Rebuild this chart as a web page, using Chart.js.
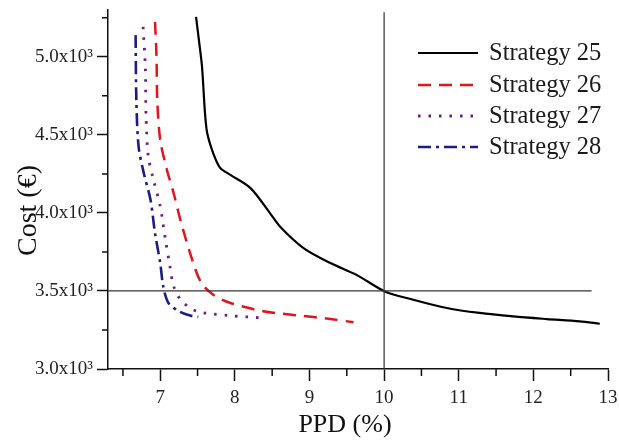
<!DOCTYPE html>
<html>
<head>
<meta charset="utf-8">
<script src="https://cdn.jsdelivr.net/npm/chart.js@4/dist/chart.umd.min.js"></script>
<style>
  html, body { margin: 0; padding: 0; background: #fff; }
  #wrap { width: 619px; height: 441px; position: relative; }
</style>
</head>
<body>
<div id="wrap"><canvas id="chart"></canvas></div>
<script>
// PPD (%) vs cost
const s25x = [7.48, 7.52, 7.56, 7.60, 7.63, 7.71, 7.80, 7.94, 8.21, 8.47, 8.61, 8.92, 9.28, 9.63, 10.01, 10.39, 10.84, 11.28, 11.73, 12.18, 12.62, 12.89];
const s25y = [5256, 5100, 4936, 4638, 4510, 4382, 4290, 4244, 4159, 3999, 3910, 3775, 3679, 3603, 3497, 3444, 3391, 3359, 3337, 3320, 3305, 3290];

const s26x = [6.93, 6.95, 6.96, 7.00, 7.09, 7.18, 7.27, 7.40, 7.54, 7.71, 7.94, 8.38, 8.83, 9.28, 9.59];
const s26y = [5224, 5000, 4723, 4467, 4275, 4126, 3955, 3743, 3560, 3476, 3423, 3370, 3344, 3321, 3299];

const s27x = [6.77, 6.80, 6.81, 6.84, 6.91, 7.00, 7.07, 7.13, 7.18, 7.29, 7.49, 7.94, 8.38];
const s27y = [5192, 4936, 4616, 4361, 4212, 4041, 3828, 3658, 3530, 3434, 3370, 3342, 3327];

const s28x = [6.67, 6.68, 6.71, 6.78, 6.87, 6.93, 7.00, 7.04, 7.11, 7.25, 7.40, 7.51];
const s28y = [5139, 4723, 4425, 4254, 4083, 3870, 3679, 3530, 3423, 3370, 3342, 3334];

// reference cross lines
const hLineX = [6.3, 12.78];
const hLineY = [3500, 3500];
const vLineX = [10, 10];
const vLineY = [3000, 5285];

const seriesNames = ['Strategy 25', 'Strategy 26', 'Strategy 27', 'Strategy 28'];
const xTicks = [7, 8, 9, 10, 11, 12, 13];
const yTicks = [3000, 3500, 4000, 4500, 5000];

const SERIF = '"Liberation Serif", "DejaVu Serif", serif';
const NB = '\u00A0';

function pts(xs, ys) { return xs.map((x, i) => ({ x: x, y: ys[i] })); }

const curveStyles = [
    { color: '#000000', dash: [], width: 2.2 },
    { color: '#e3141c', dash: [13, 8], width: 2.5 },
    { color: '#6e1b86', dash: [2.5, 8], width: 2.8 },
    { color: '#1c1c86', dash: [13, 5, 3, 5], width: 2.6 }
];
const curveData = [pts(s25x, s25y), pts(s26x, s26y), pts(s27x, s27y), pts(s28x, s28y)];

const datasets = [
    { label: 'h', data: pts(hLineX, hLineY), borderColor: '#333', borderWidth: 1.2 },
    { label: 'v', data: pts(vLineX, vLineY), borderColor: '#333', borderWidth: 1.2 }
];
seriesNames.forEach((name, i) => {
    datasets.push({
        label: name,
        data: curveData[i],
        borderColor: curveStyles[i].color,
        borderDash: curveStyles[i].dash,
        borderWidth: curveStyles[i].width,
        tension: 0.3
    });
});
datasets.forEach(d => { d.showLine = true; d.pointRadius = 0; d.fill = false; });

// minor ticks + hand-made legend (line samples need dash patterns)
const extras = {
    id: 'extras',
    afterDraw(chart) {
        const ctx = chart.ctx;
        const xs = chart.scales.x, ys = chart.scales.y;
        ctx.save();
        ctx.strokeStyle = '#111';
        ctx.lineWidth = 1.5;
        ctx.beginPath();
        for (let v = 6.5; v < 13; v += 1) {
            const px = xs.getPixelForValue(v);
            ctx.moveTo(px, xs.top); ctx.lineTo(px, xs.top + 7);
        }
        for (let v = 3250; v <= 5250; v += 500) {
            const py = ys.getPixelForValue(v);
            ctx.moveTo(ys.right, py); ctx.lineTo(ys.right - 6, py);
        }
        ctx.stroke();

        ctx.font = '24.5px ' + SERIF;
        ctx.textBaseline = 'middle';
        ctx.fillStyle = '#1a1a1a';
        const rows = [53, 85, 116, 147];
        seriesNames.forEach((name, i) => {
            const st = curveStyles[i];
            ctx.strokeStyle = st.color;
            ctx.lineWidth = st.width;
            ctx.setLineDash(st.dash);
            ctx.beginPath();
            ctx.moveTo(418, rows[i]); ctx.lineTo(478, rows[i]);
            ctx.stroke();
            ctx.setLineDash([]);
            ctx.fillText(name, 489, rows[i] + 1);
        });
        ctx.restore();
    }
};

new Chart(document.getElementById('chart'), {
    type: 'scatter',
    data: { datasets: datasets },
    plugins: [extras],
    options: {
        responsive: true,
        maintainAspectRatio: false,
        animation: false,
        layout: { padding: { top: 10, right: 11, left: 0, bottom: 0 } },
        plugins: { legend: { display: false }, tooltip: { enabled: false } },
        scales: {
            x: {
                type: 'linear', min: 6.3, max: 13,
                afterBuildTicks: s => { s.ticks = xTicks.map(v => ({ value: v })); },
                afterFit: s => { s.height = 72; s.paddingRight = 0; s.paddingLeft = 0; },
                border: { color: '#111', width: 1.5 },
                grid: { display: true, drawOnChartArea: false, drawTicks: true, tickLength: 12, tickColor: '#111', tickWidth: 1.5 },
                ticks: { color: '#222', font: { family: SERIF, size: 19 }, padding: 6, maxRotation: 0 },
                title: { display: true, text: 'PPD (%)' + NB.repeat(4), color: '#111', font: { family: SERIF, size: 26 }, padding: { top: 0, bottom: 0 } }
            },
            y: {
                type: 'linear', min: 3000, max: 5300,
                afterBuildTicks: s => { s.ticks = yTicks.map(v => ({ value: v })); },
                afterFit: s => { s.width = 108; s.paddingTop = 0; s.paddingBottom = 0; },
                border: { color: '#111', width: 1.5 },
                grid: { display: true, drawOnChartArea: false, drawTicks: true, tickLength: 11, tickColor: '#111', tickWidth: 1.5 },
                ticks: {
                    color: '#222', font: { family: SERIF, size: 19 }, padding: 4,
                    callback: v => (v / 1000).toFixed(1) + 'x10\u00B3'
                },
                title: { display: true, text: 'Cost (\u20AC)' + NB.repeat(6), color: '#111', font: { family: SERIF, size: 28 }, padding: { top: 12, bottom: 0 } }
            }
        }
    }
});
</script>
</body>
</html>
